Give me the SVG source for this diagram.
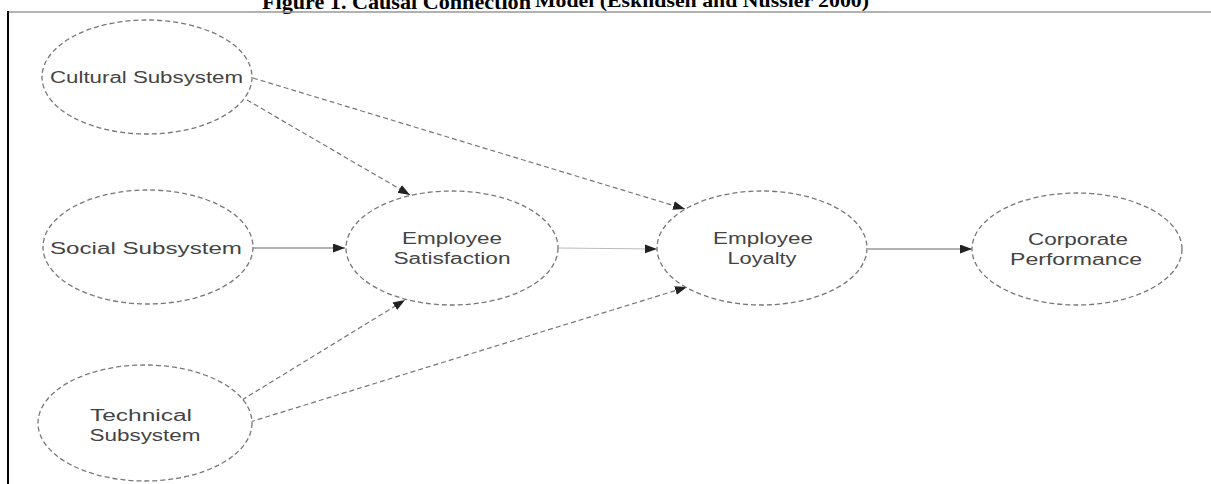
<svg xmlns="http://www.w3.org/2000/svg" width="1211" height="484" viewBox="0 0 1211 484">
<defs>
<style>
.node ellipse{fill:#fff;stroke:#777;stroke-width:1.3;stroke-dasharray:5 3}
.node text{font-family:"Liberation Sans",Arial,sans-serif;font-size:16px;fill:#444;text-anchor:middle}
.dash{fill:none;stroke:#777;stroke-width:1.2;stroke-dasharray:5 3}
.solid{fill:none;stroke:#666;stroke-width:1.2}
.light{fill:none;stroke:#bbb;stroke-width:1.2}
.title{font-family:"Liberation Serif","Times New Roman",serif;font-weight:bold;fill:#000}
</style>
<marker id="arr" markerUnits="userSpaceOnUse" markerWidth="14" markerHeight="11" refX="12" refY="4.5" orient="auto">
<path d="M0,0 L12,4.5 L0,9 z" fill="#222"/>
</marker>
</defs>
<rect width="1211" height="484" fill="#fff"/>
<g id="title">
<text class="title" x="262" y="9" font-size="22" textLength="269" lengthAdjust="spacingAndGlyphs">Figure 1. Causal Connection</text>
<text class="title" x="535" y="7" font-size="18" textLength="334" lengthAdjust="spacingAndGlyphs">Model (Eskildsen and Nussler 2000)</text>
</g>
<g id="frame">
<line x1="8" y1="12" x2="1211" y2="12" stroke="#999" stroke-width="1.5"/>
<line x1="8" y1="11" x2="8" y2="484" stroke="#000" stroke-width="2"/>
</g>
<g id="connectors">
<line class="dash" x1="247" y1="100" x2="410" y2="195" marker-end="url(#arr)"/>
<line class="dash" x1="253" y1="78" x2="685" y2="209" marker-end="url(#arr)"/>
<line class="solid" x1="253" y1="248" x2="345" y2="248" marker-end="url(#arr)"/>
<line class="light" x1="558" y1="248" x2="657" y2="249" marker-end="url(#arr)"/>
<line class="dash" x1="242" y1="400" x2="405" y2="300" marker-end="url(#arr)"/>
<line class="dash" x1="250" y1="422" x2="687" y2="287" marker-end="url(#arr)"/>
<line class="solid" x1="868" y1="249" x2="972" y2="249" marker-end="url(#arr)"/>
</g>
<g id="cultural" class="node">
<ellipse cx="147" cy="77" rx="105" ry="57"/>
<text x="146.5" y="83" textLength="193" lengthAdjust="spacingAndGlyphs">Cultural Subsystem</text>
</g>
<g id="social" class="node">
<ellipse cx="148" cy="247" rx="105" ry="57"/>
<text x="146" y="253.5" textLength="192" lengthAdjust="spacingAndGlyphs">Social Subsystem</text>
</g>
<g id="technical" class="node">
<ellipse cx="145" cy="423" rx="107" ry="58"/>
<text x="141" y="420.5" textLength="102" lengthAdjust="spacingAndGlyphs">Technical</text>
<text x="145" y="440.5" textLength="111" lengthAdjust="spacingAndGlyphs">Subsystem</text>
</g>
<g id="satisfaction" class="node">
<ellipse cx="452" cy="248" rx="106" ry="57"/>
<text x="452" y="243.5" textLength="100" lengthAdjust="spacingAndGlyphs">Employee</text>
<text x="452" y="263.5" textLength="117" lengthAdjust="spacingAndGlyphs">Satisfaction</text>
</g>
<g id="loyalty" class="node">
<ellipse cx="762" cy="248" rx="105" ry="57"/>
<text x="763" y="243.5" textLength="100" lengthAdjust="spacingAndGlyphs">Employee</text>
<text x="762" y="263.5" textLength="69" lengthAdjust="spacingAndGlyphs">Loyalty</text>
</g>
<g id="corporate" class="node">
<ellipse cx="1077" cy="249" rx="105" ry="56"/>
<text x="1078" y="244.5" textLength="100" lengthAdjust="spacingAndGlyphs">Corporate</text>
<text x="1076" y="264.5" textLength="132" lengthAdjust="spacingAndGlyphs">Performance</text>
</g>
</svg>
